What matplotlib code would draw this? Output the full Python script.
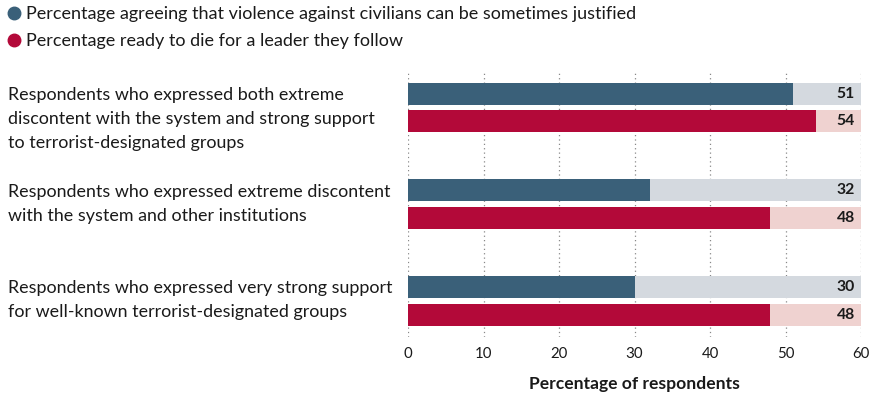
import matplotlib
matplotlib.use("Agg")
import matplotlib.pyplot as plt
from matplotlib.lines import Line2D
import numpy as np

categories = [
    "Respondents who expressed both extreme\ndiscontent with the system and strong support\nto terrorist-designated groups",
    "Respondents who expressed extreme discontent\nwith the system and other institutions",
    "Respondents who expressed very strong support\nfor well-known terrorist-designated groups",
]
violence_justified = [51, 32, 30]
ready_to_die = [54, 48, 48]
series_names = [
    "Percentage agreeing that violence against civilians can be sometimes justified",
    "Percentage ready to die for a leader they follow",
]
xticks = [0, 10, 20, 30, 40, 50, 60]

BLUE = "#3a6079"
RED = "#b30939"
BLUE_BG = "#d4d9df"
RED_BG = "#efd2d0"
TXT = "#1a1a1a"
FONT = "Lato"

plt.rcParams['font.family'] = [FONT, 'DejaVu Sans']

W, H = 877, 398
fig = plt.figure(figsize=(W / 100, H / 100), dpi=100)
ax = fig.add_axes([408 / W, 1 - 337 / H, (861 - 408) / W, (337 - 72) / H])

n = len(categories)
pos = np.arange(n)
off = 0.144
bh = 0.228
xmax = 60

ax.barh(pos - off, [xmax] * n, height=bh, color=BLUE_BG, zorder=1)
ax.barh(pos + off, [xmax] * n, height=bh, color=RED_BG, zorder=1)
ax.barh(pos - off, violence_justified, height=bh, color=BLUE, zorder=2)
ax.barh(pos + off, ready_to_die, height=bh, color=RED, zorder=2)

for i in range(n):
    ax.text(xmax - 0.8, pos[i] - off, str(violence_justified[i]), ha='right', va='center',
            fontsize=11.3, fontweight='bold', color=TXT, zorder=3)
    ax.text(xmax - 0.8, pos[i] + off, str(ready_to_die[i]), ha='right', va='center',
            fontsize=11.3, fontweight='bold', color=TXT, zorder=3)

ax.set_xlim(0, xmax)
ax.set_ylim(2.372, -0.367)
ax.set_xticks(xticks)
ax.set_xticklabels([str(t) for t in xticks], fontsize=10.8, color=TXT)
ax.tick_params(axis='x', length=0, pad=7)
ax.set_yticks([])
for s in ax.spines.values():
    s.set_visible(False)
ax.grid(axis='x', linestyle=(0, (1, 2.5)), color='#888888', linewidth=0.9, zorder=0)
ax.set_axisbelow(True)
ax.set_xlabel("Percentage of respondents", fontsize=12.6, fontweight='bold', color=TXT, labelpad=11)

tr = matplotlib.transforms.blended_transform_factory(fig.transFigure, ax.transData)
for i, lab in enumerate(categories):
    ax.text(8 / W, pos[i] - off - 0.07, lab, transform=tr, ha='left', va='top',
            fontsize=12.9, color=TXT, linespacing=1.62)

handles = [Line2D([], [], marker='o', linestyle='none', color=BLUE, markersize=9),
           Line2D([], [], marker='o', linestyle='none', color=RED, markersize=9)]
fig.legend(handles, series_names, loc='upper left', bbox_to_anchor=(-4 / W, 1 + 1 / H),
           frameon=False, fontsize=13.0, handletextpad=0.05, labelspacing=0.62,
           borderaxespad=0, handlelength=1.2, labelcolor=TXT)

fig.savefig("out.png", dpi=100)
